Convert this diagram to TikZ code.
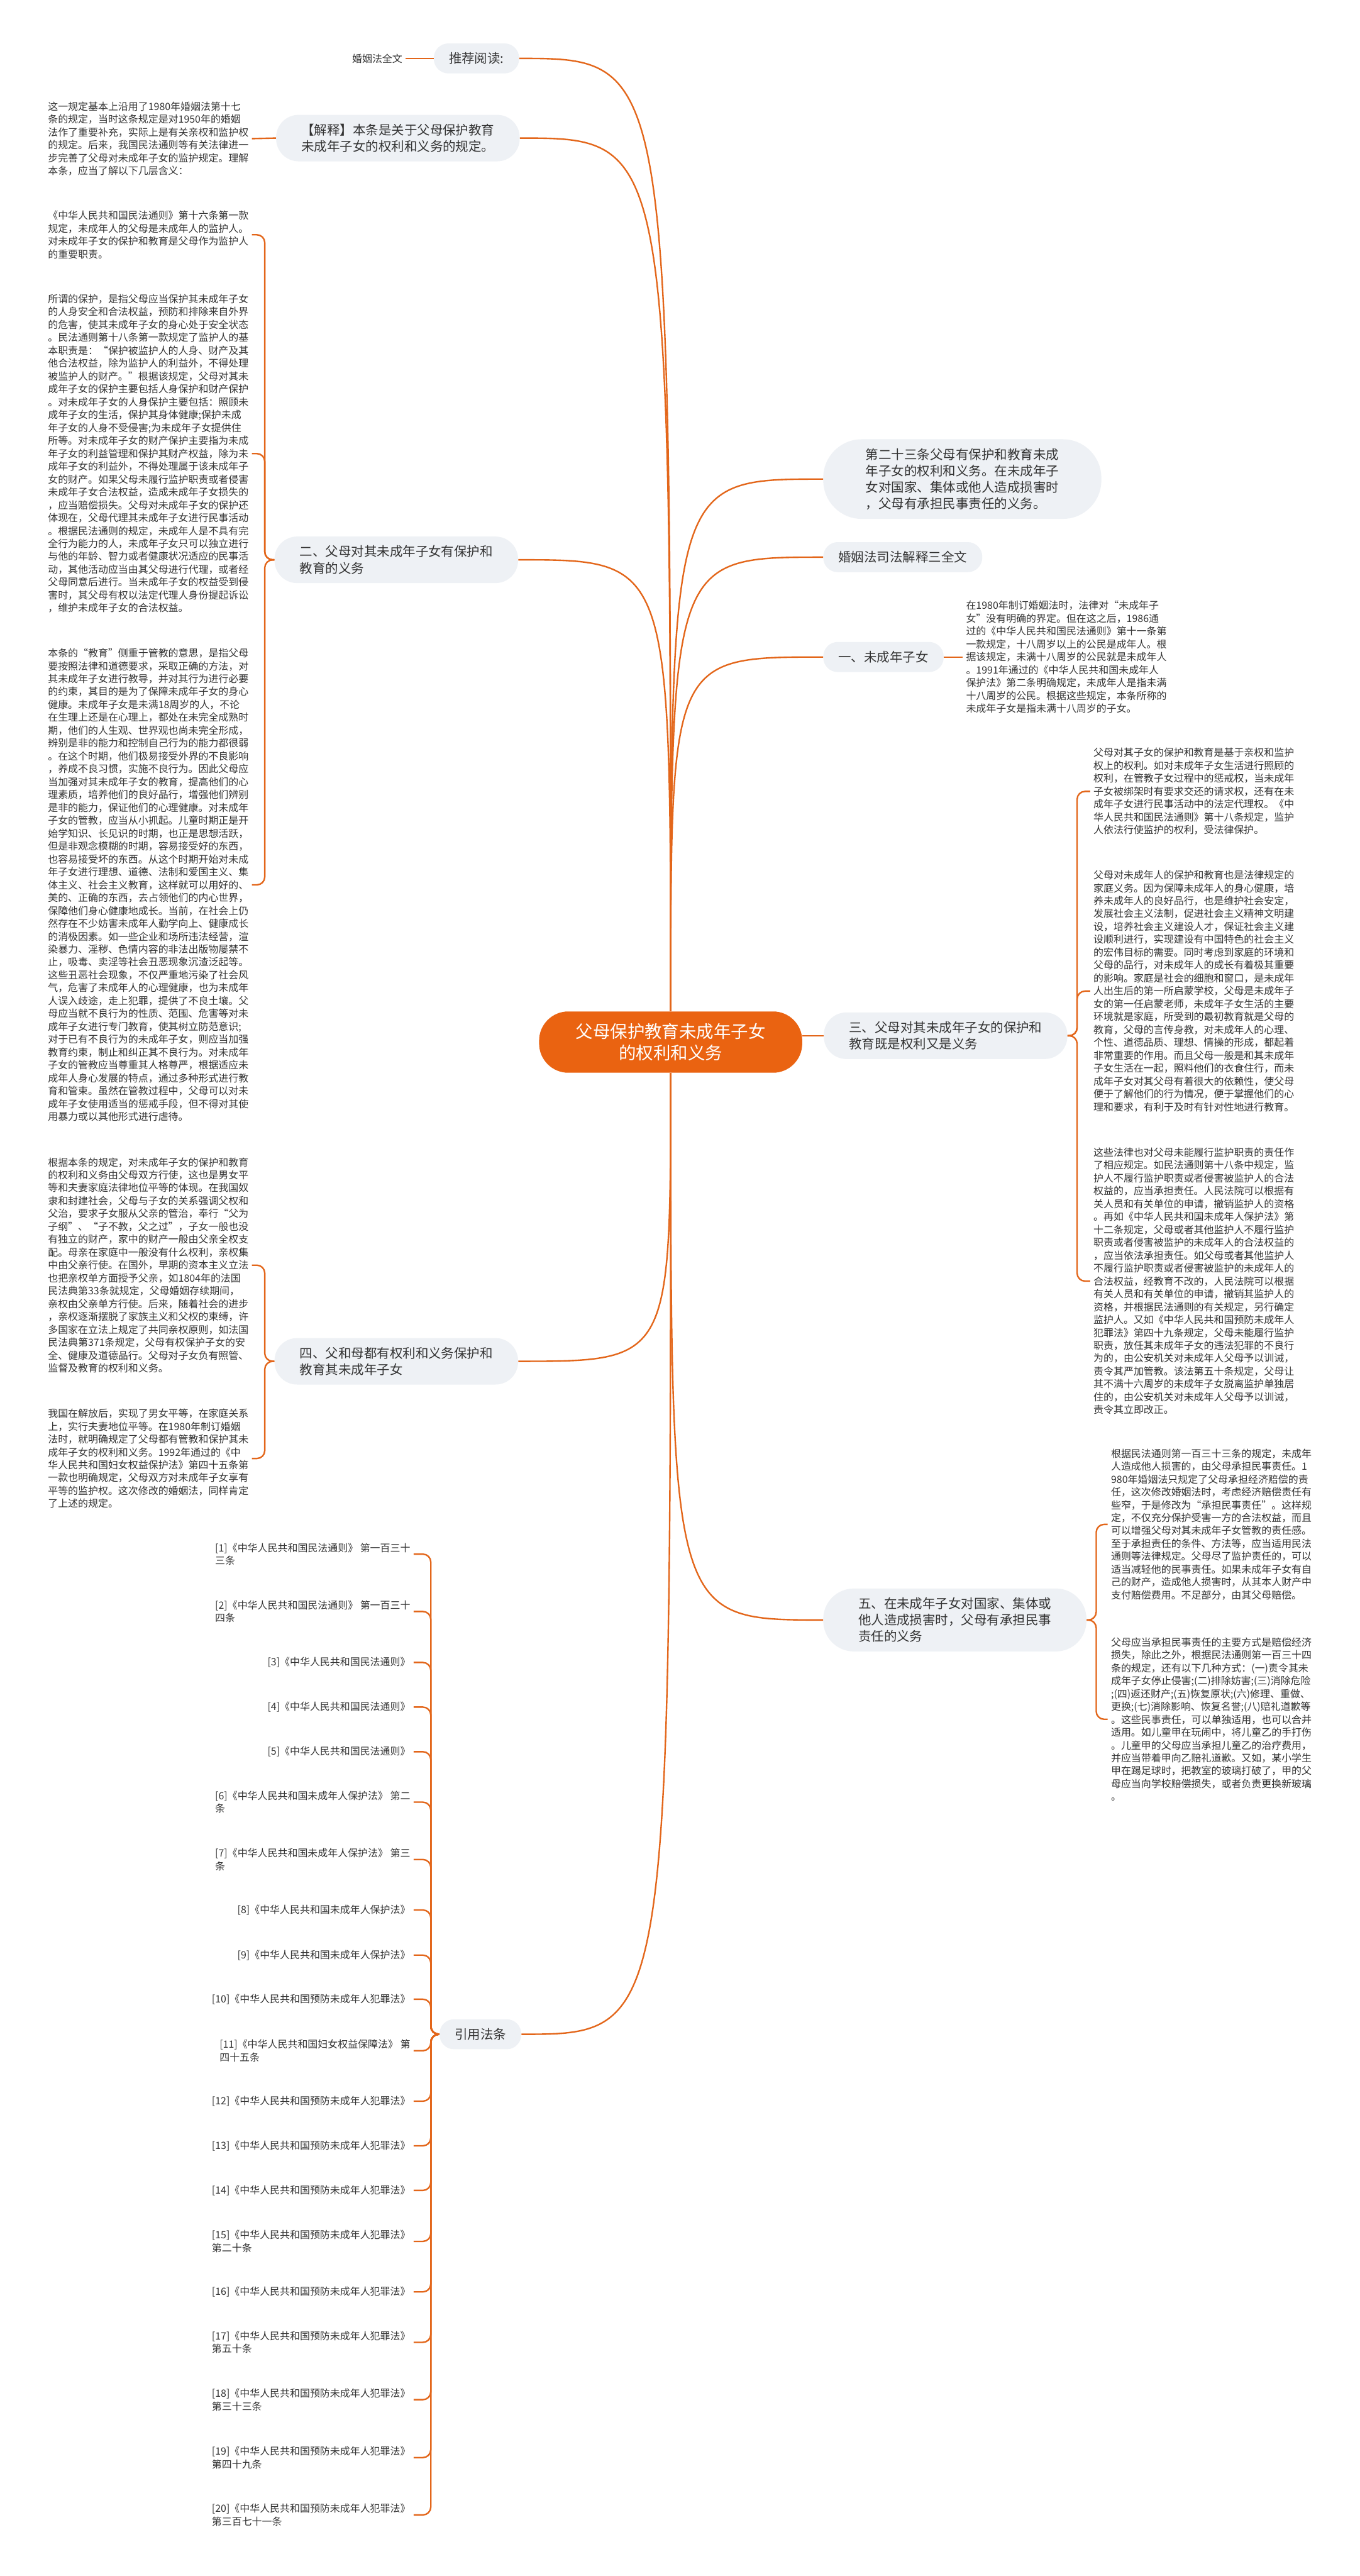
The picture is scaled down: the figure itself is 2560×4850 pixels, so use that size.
\documentclass[tikz,border=0pt]{standalone}
\usepackage{fontspec}
\setmainfont{Noto Sans CJK SC}
\definecolor{lineor}{HTML}{E3661A}
\definecolor{rootor}{HTML}{EA6311}
\definecolor{nodebg}{HTML}{EEF1F5}
\definecolor{txt}{HTML}{333333}
\newcommand{\leaffont}{\fontsize{10.75pt}{13.8pt}\selectfont}
\newcommand{\topicfont}{\fontsize{13.8pt}{17.6pt}\selectfont}
\newcommand{\rootfont}{\fontsize{18.5pt}{22.8pt}\selectfont}
\begin{document}
\begin{tikzpicture}[x=0.02cm, y=-0.02cm, every node/.style={text=txt}]
  \tikzstyle{topic}=[fill=nodebg, font=\topicfont, align=left, inner ysep=0.34cm, inner xsep=0.95cm, rounded corners=0.85cm]
  \tikzstyle{pill}=[topic, inner xsep=0.57cm, rounded corners=0.55cm]
  \tikzstyle{leaf}=[font=\leaffont, align=left, inner xsep=0.12cm, inner ysep=0cm]
  \tikzstyle{lnk}=[draw=lineor, line width=1.6pt]
  \tikzstyle{brc}=[lnk, rounded corners=0.3cm]
  \useasboundingbox (0,0) rectangle (2560,4850);
  \fill[white] (0,0) rectangle (2560,4850);
  % root
  \node[fill=rootor, text=white, font=\rootfont, align=center, inner xsep=1.38cm, inner ysep=0.45cm, rounded corners=1.1cm] (root) at (1263,1962) {父母保护教育未成年子女\\的权利和义务};
  % left topics
  \node[pill, anchor=east] (rec) at (978,110) {推荐阅读:};
  \node[topic, anchor=east] (expl) at (979,260) {【解释】本条是关于父母保护教育\\未成年子女的权利和义务的规定。};
  \node[topic, anchor=east] (n2) at (976,1054) {二、父母对其未成年子女有保护和\\教育的义务};
  \node[topic, anchor=east] (n4) at (976,2563) {四、父和母都有权利和义务保护和\\教育其未成年子女};
  \node[pill, anchor=east] (cite) at (982,3830) {引用法条};
  % right topics
  \node[topic, anchor=west, inner xsep=1.6cm, rounded corners=1.45cm] (a23) at (1550,902) {第二十三条父母有保护和教育未成\\年子女的权利和义务。在未成年子\\女对国家、集体或他人造成损害时\\，父母有承担民事责任的义务。};
  \node[pill, anchor=west] (sj3) at (1550,1049) {婚姻法司法解释三全文};
  \node[pill, anchor=west] (n1) at (1550,1237) {一、未成年子女};
  \node[topic, anchor=west] (n3) at (1551,1950) {三、父母对其未成年子女的保护和\\教育既是权利又是义务};
  \node[topic, anchor=west, inner xsep=1.32cm, rounded corners=1.15cm] (n5) at (1550,3050) {五、在未成年子女对国家、集体或\\他人造成损害时，父母有承担民事\\责任的义务};
  % leaves on the left
  \node[leaf, anchor=east] (hy) at (764,110) {婚姻法全文};
  \node[leaf, anchor=west] (a) at (84,261) {这一规定基本上沿用了1980年婚姻法第十七\\
    条的规定，当时这条规定是对1950年的婚姻\\
    法作了重要补充，实际上是有关亲权和监护权\\
    的规定。后来，我国民法通则等有关法律进一\\
    步完善了父母对未成年子女的监护规定。理解\\
    本条，应当了解以下几层含义：};
  \node[leaf, anchor=west] (b) at (84,442) {《中华人民共和国民法通则》第十六条第一款\\
    规定，未成年人的父母是未成年人的监护人。\\
    对未成年子女的保护和教育是父母作为监护人\\
    的重要职责。};
  \node[leaf, anchor=west] (c) at (84,854) {所谓的保护，是指父母应当保护其未成年子女\\
    的人身安全和合法权益，预防和排除来自外界\\
    的危害，使其未成年子女的身心处于安全状态\\
    。民法通则第十八条第一款规定了监护人的基\\
    本职责是：“保护被监护人的人身、财产及其\\
    他合法权益，除为监护人的利益外，不得处理\\
    被监护人的财产。”根据该规定，父母对其未\\
    成年子女的保护主要包括人身保护和财产保护\\
    。对未成年子女的人身保护主要包括：照顾未\\
    成年子女的生活，保护其身体健康;保护未成\\
    年子女的人身不受侵害;为未成年子女提供住\\
    所等。对未成年子女的财产保护主要指为未成\\
    年子女的利益管理和保护其财产权益，除为未\\
    成年子女的利益外，不得处理属于该未成年子\\
    女的财产。如果父母未履行监护职责或者侵害\\
    未成年子女合法权益，造成未成年子女损失的\\
    ，应当赔偿损失。父母对未成年子女的保护还\\
    体现在，父母代理其未成年子女进行民事活动\\
    。根据民法通则的规定，未成年人是不具有完\\
    全行为能力的人，未成年子女只可以独立进行\\
    与他的年龄、智力或者健康状况适应的民事活\\
    动，其他活动应当由其父母进行代理，或者经\\
    父母同意后进行。当未成年子女的权益受到侵\\
    害时，其父母有权以法定代理人身份提起诉讼\\
    ，维护未成年子女的合法权益。};
  \node[leaf, anchor=west] (d) at (84,1666) {本条的“教育”侧重于管教的意思，是指父母\\
    要按照法律和道德要求，采取正确的方法，对\\
    其未成年子女进行教导，并对其行为进行必要\\
    的约束，其目的是为了保障未成年子女的身心\\
    健康。未成年子女是未满18周岁的人，不论\\
    在生理上还是在心理上，都处在未完全成熟时\\
    期，他们的人生观、世界观也尚未完全形成，\\
    辨别是非的能力和控制自己行为的能力都很弱\\
    。在这个时期，他们极易接受外界的不良影响\\
    ，养成不良习惯，实施不良行为。因此父母应\\
    当加强对其未成年子女的教育，提高他们的心\\
    理素质，培养他们的良好品行，增强他们辨别\\
    是非的能力，保证他们的心理健康。对未成年\\
    子女的管教，应当从小抓起。儿童时期正是开\\
    始学知识、长见识的时期，也正是思想活跃，\\
    但是非观念模糊的时期，容易接受好的东西，\\
    也容易接受坏的东西。从这个时期开始对未成\\
    年子女进行理想、道德、法制和爱国主义、集\\
    体主义、社会主义教育，这样就可以用好的、\\
    美的、正确的东西，去占领他们的内心世界，\\
    保障他们身心健康地成长。当前，在社会上仍\\
    然存在不少妨害未成年人勤学向上、健康成长\\
    的消极因素。如一些企业和场所违法经营，渲\\
    染暴力、淫秽、色情内容的非法出版物屡禁不\\
    止，吸毒、卖淫等社会丑恶现象沉渣泛起等。\\
    这些丑恶社会现象，不仅严重地污染了社会风\\
    气，危害了未成年人的心理健康，也为未成年\\
    人误入歧途，走上犯罪，提供了不良土壤。父\\
    母应当就不良行为的性质、范围、危害等对未\\
    成年子女进行专门教育，使其树立防范意识;\\
    对于已有不良行为的未成年子女，则应当加强\\
    教育约束，制止和纠正其不良行为。对未成年\\
    子女的管教应当尊重其人格尊严，根据适应未\\
    成年人身心发展的特点，通过多种形式进行教\\
    育和管束。虽然在管教过程中，父母可以对未\\
    成年子女使用适当的惩戒手段，但不得对其使\\
    用暴力或以其他形式进行虐待。};
  \node[leaf, anchor=west] (e) at (84,2382) {根据本条的规定，对未成年子女的保护和教育\\
    的权利和义务由父母双方行使，这也是男女平\\
    等和夫妻家庭法律地位平等的体现。在我国奴\\
    隶和封建社会，父母与子女的关系强调父权和\\
    父治，要求子女服从父亲的管治，奉行“父为\\
    子纲”、“子不教，父之过”，子女一般也没\\
    有独立的财产，家中的财产一般由父亲全权支\\
    配。母亲在家庭中一般没有什么权利，亲权集\\
    中由父亲行使。在国外，早期的资本主义立法\\
    也把亲权单方面授予父亲，如1804年的法国\\
    民法典第33条就规定，父母婚姻存续期间，\\
    亲权由父亲单方行使。后来，随着社会的进步\\
    ，亲权逐渐摆脱了家族主义和父权的束缚，许\\
    多国家在立法上规定了共同亲权原则，如法国\\
    民法典第371条规定，父母有权保护子女的安\\
    全、健康及道德品行。父母对子女负有照管、\\
    监督及教育的权利和义务。};
  \node[leaf, anchor=west] (e2) at (84,2746) {我国在解放后，实现了男女平等，在家庭关系\\
    上，实行夫妻地位平等。在1980年制订婚姻\\
    法时，就明确规定了父母都有管教和保护其未\\
    成年子女的权利和义务。1992年通过的《中\\
    华人民共和国妇女权益保护法》第四十五条第\\
    一款也明确规定，父母双方对未成年子女享有\\
    平等的监护权。这次修改的婚姻法，同样肯定\\
    了上述的规定。};
  % references
  \node[leaf, anchor=east] (r1) at (779,2926) {[1]《中华人民共和国民法通则》 第一百三十\\三条};
  \node[leaf, anchor=east] (r2) at (779,3034) {[2]《中华人民共和国民法通则》 第一百三十\\四条};
  \node[leaf, anchor=east] (r3) at (779,3130) {[3]《中华人民共和国民法通则》};
  \node[leaf, anchor=east] (r4) at (779,3214) {[4]《中华人民共和国民法通则》};
  \node[leaf, anchor=east] (r5) at (779,3298) {[5]《中华人民共和国民法通则》};
  \node[leaf, anchor=east] (r6) at (779,3393) {[6]《中华人民共和国未成年人保护法》 第二\\条};
  \node[leaf, anchor=east] (r7) at (779,3501) {[7]《中华人民共和国未成年人保护法》 第三\\条};
  \node[leaf, anchor=east] (r8) at (779,3596) {[8]《中华人民共和国未成年人保护法》};
  \node[leaf, anchor=east] (r9) at (779,3681) {[9]《中华人民共和国未成年人保护法》};
  \node[leaf, anchor=east] (r10) at (779,3764) {[10]《中华人民共和国预防未成年人犯罪法》};
  \node[leaf, anchor=east] (r11) at (779,3861) {[11]《中华人民共和国妇女权益保障法》 第\\四十五条};
  \node[leaf, anchor=east] (r12) at (779,3956) {[12]《中华人民共和国预防未成年人犯罪法》};
  \node[leaf, anchor=east] (r13) at (779,4040) {[13]《中华人民共和国预防未成年人犯罪法》};
  \node[leaf, anchor=east] (r14) at (779,4124) {[14]《中华人民共和国预防未成年人犯罪法》};
  \node[leaf, anchor=east] (r15) at (779,4220) {[15]《中华人民共和国预防未成年人犯罪法》\\第二十条};
  \node[leaf, anchor=east] (r16) at (779,4315) {[16]《中华人民共和国预防未成年人犯罪法》};
  \node[leaf, anchor=east] (r17) at (779,4410) {[17]《中华人民共和国预防未成年人犯罪法》\\第五十条};
  \node[leaf, anchor=east] (r18) at (779,4518) {[18]《中华人民共和国预防未成年人犯罪法》\\第三十三条};
  \node[leaf, anchor=east] (r19) at (779,4627) {[19]《中华人民共和国预防未成年人犯罪法》\\第四十九条};
  \node[leaf, anchor=east] (r20) at (779,4735) {[20]《中华人民共和国预防未成年人犯罪法》\\第三百七十一条};
  % leaves on the right
  \node[leaf, anchor=west] (f) at (1813,1237) {在1980年制订婚姻法时，法律对“未成年子\\
    女”没有明确的界定。但在这之后，1986通\\
    过的《中华人民共和国民法通则》第十一条第\\
    一款规定，十八周岁以上的公民是成年人。根\\
    据该规定，未满十八周岁的公民就是未成年人\\
    。1991年通过的《中华人民共和国未成年人\\
    保护法》第二条明确规定，未成年人是指未满\\
    十八周岁的公民。根据这些规定，本条所称的\\
    未成年子女是指未满十八周岁的子女。};
  \node[leaf, anchor=west] (g) at (2053,1490) {父母对其子女的保护和教育是基于亲权和监护\\
    权上的权利。如对未成年子女生活进行照顾的\\
    权利，在管教子女过程中的惩戒权，当未成年\\
    子女被绑架时有要求交还的请求权，还有在未\\
    成年子女进行民事活动中的法定代理权。《中\\
    华人民共和国民法通则》第十八条规定，监护\\
    人依法行使监护的权利，受法律保护。};
  \node[leaf, anchor=west] (h) at (2053,1866) {父母对未成年人的保护和教育也是法律规定的\\
    家庭义务。因为保障未成年人的身心健康，培\\
    养未成年人的良好品行，也是维护社会安定，\\
    发展社会主义法制，促进社会主义精神文明建\\
    设，培养社会主义建设人才，保证社会主义建\\
    设顺利进行，实现建设有中国特色的社会主义\\
    的宏伟目标的需要。同时考虑到家庭的环境和\\
    父母的品行，对未成年人的成长有着极其重要\\
    的影响。家庭是社会的细胞和窗口，是未成年\\
    人出生后的第一所启蒙学校，父母是未成年子\\
    女的第一任启蒙老师，未成年子女生活的主要\\
    环境就是家庭，所受到的最初教育就是父母的\\
    教育，父母的言传身教，对未成年人的心理、\\
    个性、道德品质、理想、情操的形成，都起着\\
    非常重要的作用。而且父母一般是和其未成年\\
    子女生活在一起，照料他们的衣食住行，而未\\
    成年子女对其父母有着很大的依赖性，使父母\\
    便于了解他们的行为情况，便于掌握他们的心\\
    理和要求，有利于及时有针对性地进行教育。};
  \node[leaf, anchor=west] (i) at (2053,2412) {这些法律也对父母未能履行监护职责的责任作\\
    了相应规定。如民法通则第十八条中规定，监\\
    护人不履行监护职责或者侵害被监护人的合法\\
    权益的，应当承担责任。人民法院可以根据有\\
    关人员和有关单位的申请，撤销监护人的资格\\
    。再如《中华人民共和国未成年人保护法》第\\
    十二条规定，父母或者其他监护人不履行监护\\
    职责或者侵害被监护的未成年人的合法权益的\\
    ，应当依法承担责任。如父母或者其他监护人\\
    不履行监护职责或者侵害被监护的未成年人的\\
    合法权益，经教育不改的，人民法院可以根据\\
    有关人员和有关单位的申请，撤销其监护人的\\
    资格，并根据民法通则的有关规定，另行确定\\
    监护人。又如《中华人民共和国预防未成年人\\
    犯罪法》第四十九条规定，父母未能履行监护\\
    职责，放任其未成年子女的违法犯罪的不良行\\
    为的，由公安机关对未成年人父母予以训诫，\\
    责令其严加管教。该法第五十条规定，父母让\\
    其不满十六周岁的未成年子女脱离监护单独居\\
    住的，由公安机关对未成年人父母予以训诫，\\
    责令其立即改正。};
  \node[leaf, anchor=west] (j) at (2086,2870) {根据民法通则第一百三十三条的规定，未成年\\
    人造成他人损害的，由父母承担民事责任。1\\
    980年婚姻法只规定了父母承担经济赔偿的责\\
    任，这次修改婚姻法时，考虑经济赔偿责任有\\
    些窄，于是修改为“承担民事责任”。这样规\\
    定，不仅充分保护受害一方的合法权益，而且\\
    可以增强父母对其未成年子女管教的责任感。\\
    至于承担责任的条件、方法等，应当适用民法\\
    通则等法律规定。父母尽了监护责任的，可以\\
    适当减轻他的民事责任。如果未成年子女有自\\
    己的财产，造成他人损害时，从其本人财产中\\
    支付赔偿费用。不足部分，由其父母赔偿。};
  \node[leaf, anchor=west] (k) at (2086,3237) {父母应当承担民事责任的主要方式是赔偿经济\\
    损失，除此之外，根据民法通则第一百三十四\\
    条的规定，还有以下几种方式：(一)责令其未\\
    成年子女停止侵害;(二)排除妨害;(三)消除危险\\
    ;(四)返还财产;(五)恢复原状;(六)修理、重做、\\
    更换;(七)消除影响、恢复名誉;(八)赔礼道歉等\\
    。这些民事责任，可以单独适用，也可以合并\\
    适用。如儿童甲在玩闹中，将儿童乙的手打伤\\
    。儿童甲的父母应当承担儿童乙的治疗费用，\\
    并应当带着甲向乙赔礼道歉。又如，某小学生\\
    甲在踢足球时，把教室的玻璃打破了，甲的父\\
    母应当向学校赔偿损失，或者负责更换新玻璃\\
    。};
  % root to topics
  \draw[lnk] (root.north) .. controls (root.north |- rec.east) .. (rec.east);
  \draw[lnk] (root.north) .. controls (root.north |- expl.east) .. (expl.east);
  \draw[lnk] (root.north) .. controls (root.north |- n2.east) .. (n2.east);
  \draw[lnk] (root.south) .. controls (root.south |- n4.east) .. (n4.east);
  \draw[lnk] (root.south) .. controls (root.south |- cite.east) .. (cite.east);
  \draw[lnk] (root.north) .. controls (root.north |- a23.west) .. (a23.west);
  \draw[lnk] (root.north) .. controls (root.north |- sj3.west) .. (sj3.west);
  \draw[lnk] (root.north) .. controls (root.north |- n1.west) .. (n1.west);
  \draw[lnk] (root.east |- n3.west) -- (n3.west);
  \draw[lnk] (root.south) .. controls (root.south |- n5.west) .. (n5.west);
  % topics to leaves
  \draw[lnk] (hy.east) -- (rec.west);
  \draw[lnk] (a.east) -- (expl.west);
  \draw[lnk] (f.west) -- (n1.east);
  \draw[brc] (n2.west) -- ++(-18,0) |- (b.east);
  \draw[brc] (n2.west) -- ++(-18,0) |- (c.east);
  \draw[brc] (n2.west) -- ++(-18,0) |- (d.east);
  \draw[brc] (n4.west) -- ++(-18,0) |- (e.east);
  \draw[brc] (n4.west) -- ++(-18,0) |- (e2.east);
  \draw[brc] (n3.east) -- ++(18,0) |- (g.west);
  \draw[brc] (n3.east) -- ++(18,0) |- (h.west);
  \draw[brc] (n3.east) -- ++(18,0) |- (i.west);
  \draw[brc] (n5.east) -- ++(18,0) |- (j.west);
  \draw[brc] (n5.east) -- ++(18,0) |- (k.west);
  % references
  \draw[brc] (cite.west) -- ++(-16,0) |- (r1.east);
  \draw[brc] (cite.west) -- ++(-16,0) |- (r2.east);
  \draw[brc] (cite.west) -- ++(-16,0) |- (r3.east);
  \draw[brc] (cite.west) -- ++(-16,0) |- (r4.east);
  \draw[brc] (cite.west) -- ++(-16,0) |- (r5.east);
  \draw[brc] (cite.west) -- ++(-16,0) |- (r6.east);
  \draw[brc] (cite.west) -- ++(-16,0) |- (r7.east);
  \draw[brc] (cite.west) -- ++(-16,0) |- (r8.east);
  \draw[brc] (cite.west) -- ++(-16,0) |- (r9.east);
  \draw[brc] (cite.west) -- ++(-16,0) |- (r10.east);
  \draw[brc] (cite.west) -- ++(-16,0) |- (r11.east);
  \draw[brc] (cite.west) -- ++(-16,0) |- (r12.east);
  \draw[brc] (cite.west) -- ++(-16,0) |- (r13.east);
  \draw[brc] (cite.west) -- ++(-16,0) |- (r14.east);
  \draw[brc] (cite.west) -- ++(-16,0) |- (r15.east);
  \draw[brc] (cite.west) -- ++(-16,0) |- (r16.east);
  \draw[brc] (cite.west) -- ++(-16,0) |- (r17.east);
  \draw[brc] (cite.west) -- ++(-16,0) |- (r18.east);
  \draw[brc] (cite.west) -- ++(-16,0) |- (r19.east);
  \draw[brc] (cite.west) -- ++(-16,0) |- (r20.east);
\end{tikzpicture}
\end{document}
